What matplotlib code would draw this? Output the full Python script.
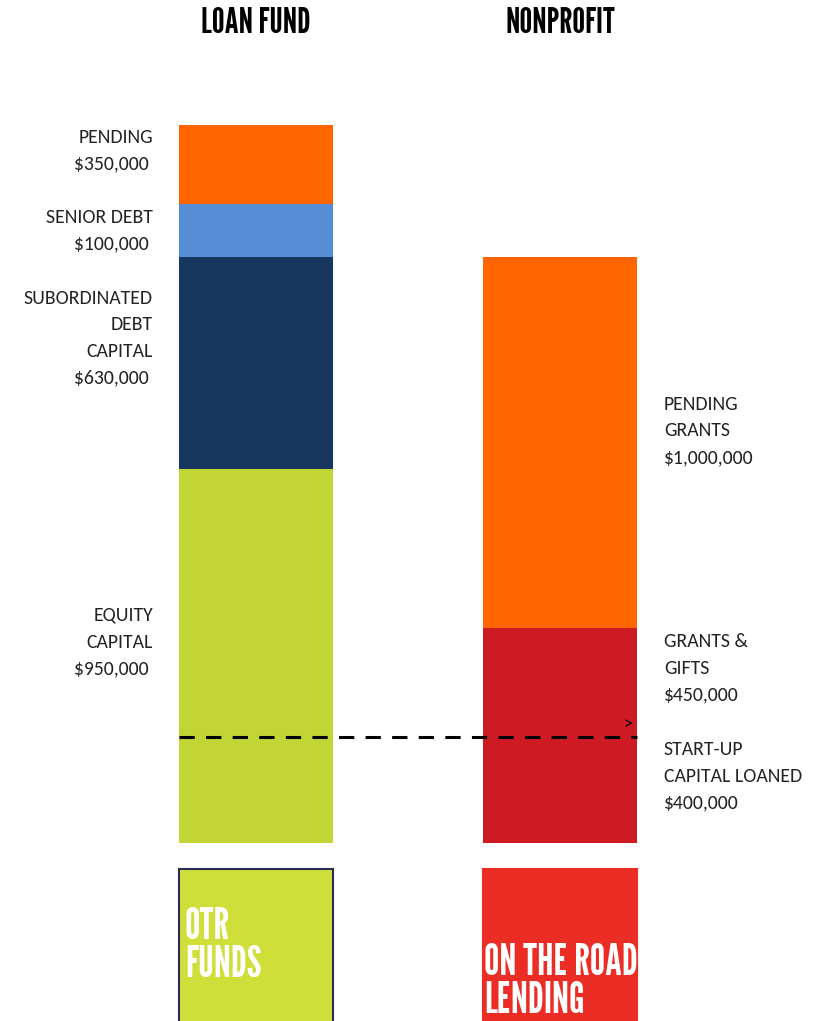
import matplotlib.pyplot as plt
from matplotlib.patches import Rectangle
from matplotlib import font_manager as fm

# Columns and their stacked segments (bottom to top)
columns = ["LOAN FUND", "NONPROFIT"]

fund_labels = ["EQUITY\nCAPITAL\n$950,000 ", "SUBORDINATED\nDEBT\nCAPITAL\n$630,000 ",
               "SENIOR DEBT\n$100,000 ", "PENDING\n$350,000 "]
fund_heights = [374, 212, 53, 79]          # drawn heights (chart is not to scale)
fund_colors = ["#C1D535", "#17375E", "#558ED5", "#FF6600"]

np_labels = ["START-UP\nCAPITAL LOANED\n$400,000", "GRANTS &\nGIFTS\n$450,000",
             "PENDING\nGRANTS\n$1,000,000"]
np_heights = [215, 371]                    # red block, orange block
np_colors = ["#CD1A23", "#FF6600"]
loaned_level = 106                         # dashed line: start-up capital loaned

logo_texts = ["OTR\nFUNDS", "ON THE ROAD\nLENDING"]
logo_colors = ["#CFDE38", "#EC2D25"]

# label anchor heights (layout)
fund_label_y = [201, 505, 612, 692]
np_label_y = [67, 175, 412]

installed = set(f.name for f in fm.fontManager.ttflist)


def pick(cands, default):
    for c in cands:
        if c in installed:
            return [c, "DejaVu Sans"]
    return [default]


body_font = pick(["Carlito", "Lato"], "DejaVu Sans")
narrow_font = pick(["League Gothic", "Bebas Neue", "Oswald", "Barlow Condensed"], "DejaVu Sans")
narrow_stretch = "normal" if narrow_font[0] != "DejaVu Sans" else "condensed"

fig = plt.figure(figsize=(8.15, 10.21), dpi=100)
ax = fig.add_axes([0, 0, 1, 1])
ax.set_xlim(-0.842, 1.839)
ax.set_ylim(-178, 843)
ax.axis("off")

w = 0.507

# Loan fund stack
bottom = 0
for h, c in zip(fund_heights, fund_colors):
    ax.bar(0, h, width=w, bottom=bottom, color=c, linewidth=0)
    bottom += h

# Nonprofit stack
bottom = 0
for h, c in zip(np_heights, np_colors):
    ax.bar(1, h, width=w, bottom=bottom, color=c, linewidth=0)
    bottom += h

# Labels
for lab, y in zip(fund_labels, fund_label_y):
    ax.text(-0.339, y, lab, ha="right", va="center", fontsize=14.2,
            family=body_font, color="#222222", linespacing=1.68, multialignment="right")
for lab, y in zip(np_labels, np_label_y):
    ax.text(1.342, y, lab, ha="left", va="center", fontsize=14.2,
            family=body_font, color="#222222", linespacing=1.68)

# Dashed line for capital loaned
ax.hlines(loaned_level, -w / 2, 1 + w / 2, colors="black", linewidth=2.2,
          linestyles=(0, (5.0, 3.7)))
ax.text(1.224, loaned_level + 5, ">", ha="center", va="bottom", fontsize=13,
        family=body_font, color="black")

# Column titles
for i, t in enumerate(columns):
    ax.text(i, 819, t, ha="center", va="center", fontsize=26,
            family=narrow_font, stretch=narrow_stretch, color="black")

# Logo boxes
for i, (t, c) in enumerate(zip(logo_texts, logo_colors)):
    edge = "#2B2A5A" if i == 0 else c
    rect = Rectangle((i - w / 2, -180), w, 154, facecolor=c, edgecolor=edge,
                     linewidth=1.5)
    ax.add_patch(rect)
    if i == 0:
        txt = ax.text(i - w / 2 + 0.02, -103, t, ha="left", va="center", fontsize=31,
                      family=narrow_font, stretch=narrow_stretch, color="white",
                      linespacing=0.95)
    else:
        txt = ax.text(i - w / 2 + 0.003, -139, t, ha="left", va="center", fontsize=31,
                      family=narrow_font, stretch=narrow_stretch, color="white",
                      linespacing=0.95)
    txt.set_clip_path(rect)

fig.savefig("out.png", dpi=100)
